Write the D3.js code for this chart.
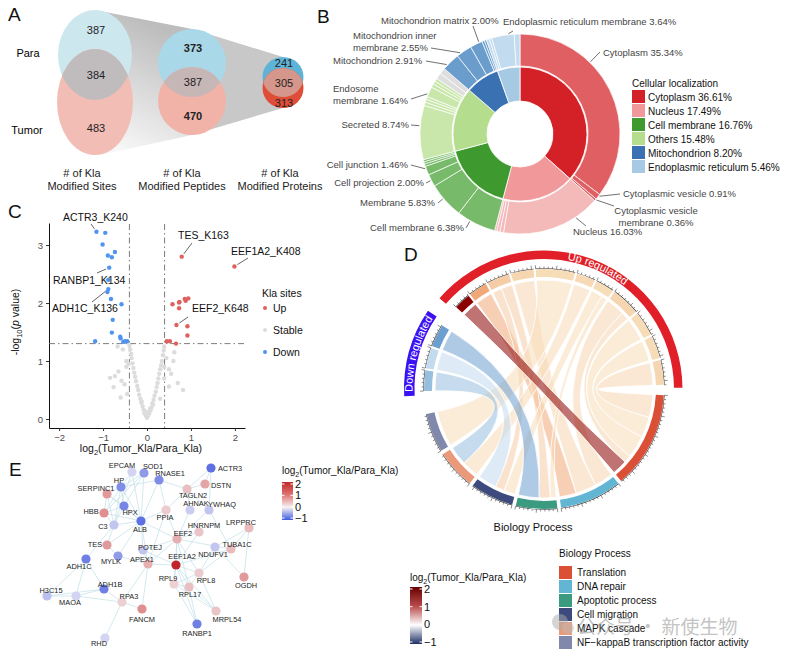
<!DOCTYPE html>
<html lang="en">
<head>
  <meta charset="UTF-8" />
  <title>Kla multi-panel figure</title>
  <script src="https://d3js.org/d3.v7.min.js"></script>
  <style>
    body { margin: 0; background: #fff; }
    svg { display: block; font-family: "Liberation Sans", Arial, sans-serif; }
  </style>
</head>
<body>
  <svg width="787" height="656"></svg>

  <script>
    // ---------- A: Kla counts (Para only / shared / Tumor only)
    const vennLevels = ["Sites", "Peptides", "Proteins"];
    const paraOnly = [387, 373, 241];
    const sharedKla = [384, 387, 305];
    const tumorOnly = [483, 470, 313];

    // ---------- B: subcellular localization
    const locGroups = ["Cytoplasm", "Nucleus", "Cell membrane", "Others", "Mitochondrion", "Endoplasmic reticulum"];
    const locShares = [36.61, 17.49, 16.76, 15.48, 8.20, 5.46];
    const subLocNames = [
      "Cytoplasm", "Cytoplasmic vesicle", "Cytoplasmic vesicle membrane",
      "Nucleus", "", "", "",
      "Cell membrane", "Membrane", "Cell projection", "Cell junction", "", "", "",
      "Secreted", "", "", "", "Endosome membrane", "", "", "", "", "",
      "Mitochondrion", "Mitochondrion inner membrane", "Mitochondrion matrix", "", "",
      "", "", "Endoplasmic reticulum membrane", ""
    ];
    const subLocShares = [
      35.34, 0.91, 0.36,
      16.03, 0.60, 0.50, 0.36,
      6.38, 5.83, 2.00, 1.46, 0.40, 0.35, 0.34,
      8.74, 0.55, 0.50, 0.45, 1.64, 0.60, 0.50, 0.50, 1.00, 1.00,
      2.91, 2.55, 2.00, 0.40, 0.34,
      0.50, 0.40, 3.64, 0.92
    ];
    // group index per outer slice (6 = unassigned, grey)
    const subLocGroup = [0,0,0, 1,1,1,1, 2,2,2,2,2,2,2, 3,3,3,3,3,3,3,3,6,6, 4,4,4,4,4, 5,5,5,5];

    // ---------- C: volcano (log2 FC, -log10 p)
    const upFC   = [0.79, 1.99, 0.58, 0.73, 0.74, 0.73, 0.86, 0.94, 0.88, 0.67, 0.92, 0.92, 0.45, 0.52, 0.66];
    const upLogP = [2.80, 2.63, 1.98, 2.01, 2.02, 1.91, 2.07, 2.08, 2.04, 1.62, 1.60, 1.44, 1.34, 1.34, 1.30];
    const downFC   = [-1.15, -0.95, -1.01, -0.73, -0.89, -0.80, -0.86, -0.88, -0.88, -0.90, -0.82, -0.58, -0.78, -0.80, -0.61, -0.60, -1.18, -0.54, -0.45, -0.50];
    const downLogP = [3.23, 3.21, 3.01, 2.88, 2.82, 2.79, 2.61, 2.40, 2.24, 2.19, 2.07, 1.98, 1.71, 1.49, 1.42, 1.39, 1.34, 1.33, 1.34, 1.34];
    const stableFC = [0, 0.02, -0.03, 0.05, -0.06, 0.08, -0.08, 0.10, -0.10, 0.12, -0.13, 0.15, -0.15, 0.17, -0.18,
      0.20, -0.20, 0.22, -0.22, 0.24, -0.25, 0.26, -0.27, 0.28, -0.29, 0.30, -0.31, 0.32, -0.33, 0.34, -0.35,
      0.36, -0.36, 0.38, -0.38, 0.39, -0.40, -0.84, -0.73, -0.58, -0.47, -0.47, -0.67, -0.55, -0.51, -0.45, -0.60,
      0.39, 0.50, 0.60, 0.62, 0.82, 0.39, 0.50, 0.30, -0.02, 0.04, -0.12, 0.14, 0.07, -0.05, 0.44, -0.42, 0.55, -0.65, 0.70, -0.76];
    const stableLogP = [0.02, 0.05, 0.06, 0.10, 0.10, 0.15, 0.16, 0.20, 0.22, 0.27, 0.28, 0.33, 0.35, 0.40, 0.42,
      0.47, 0.50, 0.55, 0.57, 0.62, 0.65, 0.70, 0.73, 0.78, 0.80, 0.86, 0.88, 0.93, 0.96, 1.00, 1.05,
      1.10, 1.12, 1.18, 1.20, 1.25, 1.27, 0.71, 0.74, 0.66, 1.00, 0.90, 1.25, 1.20, 0.60, 0.43, 0.37,
      0.90, 0.86, 1.00, 1.15, 0.50, 0.70, 0.56, 0.35, 0.08, 0.12, 0.30, 0.25, 0.18, 0.14, 1.05, 0.95, 0.78, 0.82, 0.62, 0.55];
    const volcanoSites = ["ACTR3_K240", "RANBP1_K134", "ADH1C_K136", "TES_K163", "EEF1A2_K408", "EEF2_K648"];
    const volcanoSiteFC = [-1.15, -0.86, -0.88, 0.79, 1.99, 0.67];
    const volcanoSiteLogP = [3.23, 2.61, 2.24, 2.80, 2.63, 1.62];

    // ---------- D: chord (regulated Kla proteins -> biology process)
    const processes = ["Translation", "DNA repair", "Apoptotic process", "Cell migration", "MAPK cascade", "NF\u2212kappaB transcription factor activity"];
    const upIds = ["U1", "U2", "U3", "U4", "U5", "U6", "U7", "U8", "U9", "U10", "U11"];
    const upIdFC = [2.0, 0.9, 0.62, 0.55, 0.5, 0.52, 0.5, 0.55, 0.5, 0.5, 0.55];
    const downIds = ["D3", "D2", "D1"];
    const downIdFC = [-0.6, -0.4, -0.8];
    const linkFrom  = ["U1", "U2", "U3", "U3", "U4", "U5", "U6", "U7", "U7", "U8", "U8", "U9", "U10", "U11", "D1", "D2", "D3"];
    const linkTo    = [0, 1, 2, 3, 1, 5, 4, 3, 2, 1, 0, 0, 0, 0, 2, 3, 4];
    const linkValue = [8, 9, 6, 5, 11, 19, 9, 6, 3, 10, 4, 12, 11, 12, 11, 10, 10];

    // ---------- E: PPI network
    const genes = ["EPCAM", "SOD1", "RNASE1", "ACTR3", "HP", "SERPINC1", "DSTN", "TAGLN2", "AHNAK", "YWHAQ",
      "HBB", "HPX", "PPIA", "C3", "ALB", "HNRNPM", "LRPPRC", "EEF2", "TES", "TUBA1C", "NDUFV1", "POTEJ",
      "MYLK", "ADH1C", "APEX1", "EEF1A2", "RPL9", "RPL8", "RPL17", "OGDH", "ADH1B", "H3C15", "MAOA",
      "RPA3", "FANCM", "MRPL54", "RANBP1", "RHD"];
    const geneFC = [-0.2, -0.6, -0.7, -0.9, -0.7, 0.8, 0.7, 0.45, -0.25, -0.3,
      0.9, -0.75, 0.35, -0.3, -0.9, 0.4, 0.5, 0.6, 0.8, 0.5, -0.3, -0.3,
      -0.6, -0.8, 0.6, 2.0, 0.3, 0.35, 0.45, 0.8, -0.8, -0.35, -0.2,
      0.3, 0.9, 0.4, -0.8, -0.2];
    const geneEdges = [
      ["HP","SERPINC1"],["HP","HBB"],["HP","HPX"],["HP","C3"],["HP","ALB"],["SERPINC1","HBB"],["SERPINC1","HPX"],
      ["SERPINC1","C3"],["SERPINC1","ALB"],["HBB","HPX"],["HBB","C3"],["HBB","ALB"],["HPX","C3"],["HPX","ALB"],
      ["C3","ALB"],["EPCAM","ALB"],["EPCAM","C3"],["EPCAM","HP"],["SOD1","ALB"],["SOD1","HPX"],["SOD1","HBB"],
      ["SOD1","HP"],["RNASE1","ALB"],["RNASE1","PPIA"],["RNASE1","TAGLN2"],["RNASE1","HP"],["ALB","TES"],
      ["ALB","MYLK"],["ALB","POTEJ"],["ALB","EEF2"],["ALB","APEX1"],["ALB","PPIA"],["ACTR3","TAGLN2"],
      ["ACTR3","DSTN"],["ACTR3","YWHAQ"],["DSTN","TAGLN2"],["TAGLN2","YWHAQ"],["TAGLN2","PPIA"],["AHNAK","EEF2"],
      ["YWHAQ","EEF2"],["YWHAQ","TUBA1C"],["PPIA","EEF2"],["HNRNPM","EEF2"],["HNRNPM","EEF1A2"],["LRPPRC","NDUFV1"],
      ["LRPPRC","OGDH"],["LRPPRC","TUBA1C"],["EEF2","EEF1A2"],["EEF2","RPL8"],["EEF2","RPL9"],["EEF2","RPL17"],
      ["EEF2","POTEJ"],["EEF2","APEX1"],["EEF2","TUBA1C"],["EEF1A2","RPL8"],["EEF1A2","RPL9"],["EEF1A2","RPL17"],
      ["EEF1A2","MRPL54"],["EEF1A2","TUBA1C"],["EEF1A2","RANBP1"],["EEF1A2","APEX1"],["NDUFV1","OGDH"],
      ["NDUFV1","RPL8"],["RPL8","RPL9"],["RPL8","RPL17"],["RPL9","RPL17"],["RPL8","MRPL54"],["RPL17","MRPL54"],
      ["RPL9","MRPL54"],["RPL9","RANBP1"],["RPL17","RANBP1"],["TUBA1C","RPL8"],["APEX1","RPA3"],["APEX1","FANCM"],
      ["RPA3","FANCM"],["RPA3","RHD"],["ADH1C","ADH1B"],["ADH1C","MAOA"],["ADH1C","H3C15"],["ADH1B","MAOA"],
      ["ADH1B","H3C15"],["MAOA","H3C15"],["MAOA","RPA3"],["ADH1B","RPA3"],["ADH1C","C3"],["MYLK","TES"],
      ["POTEJ","APEX1"],["POTEJ","EEF1A2"],["MYLK","APEX1"],["TES","C3"],["AHNAK","TAGLN2"],["PPIA","APEX1"]
    ];

    // ================= drawing =================
    const svg = d3.select("svg");
    const label = (t, x, y) => svg.append("text").attr("x", x).attr("y", y)
      .attr("font-size", 19).attr("fill", "#111").text(t);

    function log2Title(sel, x, y, size) {
      const t = sel.append("text").attr("x", x).attr("y", y).attr("font-size", size).attr("fill", "#111");
      t.append("tspan").text("log");
      t.append("tspan").attr("font-size", size * 0.7).attr("dy", 3).text("2");
      t.append("tspan").attr("dy", -3).text("(Tumor_Kla/Para_Kla)");
      return t;
    }

    const defs = svg.append("defs");

    // ---------- Panel A
    label("A", 8, 21);
    const vennGeom = [
      { cx: 95,  rxT: 37, ryT: 45, cyT: 55, rxB: 38, ryB: 53, cyB: 102 },
      { cx: 192, rxT: 34, ryT: 34, cyT: 63, rxB: 34, ryB: 34, cyB: 101 },
      { cx: 283, rxT: 20.5, ryT: 20, cyT: 77, rxB: 20.5, ryB: 20, cyB: 88 }
    ];
    const vennTop = ["#cde7ef", "#a9d8e8", "#5db4d6"];
    const vennBot = ["#f2bdb5", "#f1b2a8", "#df4d38"];
    const vennMid = ["#c0bcbe", "#c6b6b6", "#d5968b"];
    const vennTitleX = [82, 182, 280];

    const cone1 = defs.append("linearGradient").attr("id", "cone1")
      .attr("gradientUnits", "userSpaceOnUse").attr("x1", 120).attr("y1", 150).attr("x2", 175).attr("y2", 35);
    cone1.append("stop").attr("offset", 0).attr("stop-color", "#f7f7f7");
    cone1.append("stop").attr("offset", 1).attr("stop-color", "#bdbdbd");
    const g0 = vennGeom[0], g1 = vennGeom[1], g2 = vennGeom[2];
    svg.append("path").attr("fill", "url(#cone1)")
      .attr("d", `M${g0.cx},${g0.cyT - g0.ryT} L${g1.cx},${g1.cyT - g1.ryT} L${g1.cx},${g1.cyB + g1.ryB} L${g0.cx + 5},${g0.cyB + g0.ryB} Z`);
    svg.append("path").attr("fill", "#c8c8c8")
      .attr("d", `M${g1.cx},${g1.cyT - g1.ryT} L${g2.cx},${g2.cyT - g2.ryT} L${g2.cx},${g2.cyB + g2.ryB} L${g1.cx},${g1.cyB + g1.ryB} Z`);

    vennLevels.forEach((lv, i) => {
      const g = vennGeom[i];
      defs.append("clipPath").attr("id", "clipB" + i)
        .append("ellipse").attr("cx", g.cx).attr("cy", g.cyB).attr("rx", g.rxB).attr("ry", g.ryB);
      svg.append("ellipse").attr("cx", g.cx).attr("cy", g.cyT).attr("rx", g.rxT).attr("ry", g.ryT).attr("fill", vennTop[i]);
      svg.append("ellipse").attr("cx", g.cx).attr("cy", g.cyB).attr("rx", g.rxB).attr("ry", g.ryB).attr("fill", vennBot[i]);
      svg.append("ellipse").attr("cx", g.cx).attr("cy", g.cyT).attr("rx", g.rxT).attr("ry", g.ryT)
        .attr("fill", vennMid[i]).attr("clip-path", `url(#clipB${i})`);
      const topTop = g.cyT - g.ryT, botTop = g.cyB - g.ryB, topBot = g.cyT + g.ryT, botBot = g.cyB + g.ryB;
      const ys = [(topTop + botTop) / 2, (botTop + topBot) / 2, (topBot + botBot) / 2];
      const vals = [paraOnly[i], sharedKla[i], tumorOnly[i]];
      vals.forEach((v, k) => {
        svg.append("text").attr("x", g.cx + 1).attr("y", ys[k] + 4).attr("text-anchor", "middle")
          .attr("font-size", 11).attr("fill", "#222")
          .attr("font-weight", i === 1 && k !== 1 ? "bold" : "normal").text(v);
      });
      const t = svg.append("text").attr("text-anchor", "middle").attr("font-size", 11).attr("fill", "#222");
      t.append("tspan").attr("x", vennTitleX[i]).attr("y", 177).text("# of Kla");
      t.append("tspan").attr("x", vennTitleX[i]).attr("y", 190).text("Modified " + lv);
    });
    svg.append("text").attr("x", 28).attr("y", 57).attr("text-anchor", "middle").attr("font-size", 11).text("Para");
    svg.append("text").attr("x", 27).attr("y", 134).attr("text-anchor", "middle").attr("font-size", 11).text("Tumor");

    // ---------- Panel B
    label("B", 317, 23);
    const bcx = 520, bcy = 134;
    const gB = svg.append("g").attr("transform", `translate(${bcx},${bcy})`);
    const innerCol = ["#d42027", "#f0989a", "#3e9a2f", "#b5dd8e", "#3a71b3", "#a6cae3"];
    const outerCol = ["#e05f63", "#f4b9b9", "#77ba69", "#c9e7aa", "#6b9dcc", "#c3dbee", "#dedede"];
    const pie = d3.pie().sort(null).value(d => d);
    const innerArcs = pie(locShares);
    const outerArcs = pie(subLocShares);
    const arcIn = d3.arc().innerRadius(33).outerRadius(67);
    const arcOut = d3.arc().innerRadius(68).outerRadius(100);
    gB.selectAll("path.in").data(innerArcs).join("path").attr("class", "in")
      .attr("d", arcIn).attr("fill", (d, i) => innerCol[i]).attr("stroke", "#fff").attr("stroke-width", 0.8);
    gB.selectAll("path.out").data(outerArcs).join("path").attr("class", "out")
      .attr("d", arcOut).attr("fill", (d, i) => outerCol[subLocGroup[i]]).attr("stroke", "#fff").attr("stroke-width", 0.7);

    // label placement (absolute px): text anchor point, leader end, words on first line
    const bLabelLayout = {
      "Cytoplasm": { x: 603, y: 56, anchor: "start", lx: 600, ly: 52 },
      "Cytoplasmic vesicle": { x: 623, y: 197, anchor: "start", lx: 620, ly: 194 },
      "Cytoplasmic vesicle membrane": { x: 656, y: 214, anchor: "middle", lx: 614, ly: 206, br: 2 },
      "Nucleus": { x: 573, y: 235, anchor: "start", lx: 586, ly: 226 },
      "Cell membrane": { x: 464, y: 231, anchor: "end", lx: 466, ly: 228 },
      "Membrane": { x: 435, y: 206, anchor: "end", lx: 438, ly: 203 },
      "Cell projection": { x: 424, y: 186, anchor: "end", lx: 426, ly: 183 },
      "Cell junction": { x: 408, y: 168, anchor: "end", lx: 411, ly: 165 },
      "Secreted": { x: 409, y: 128, anchor: "end", lx: 411, ly: 125 },
      "Endosome membrane": { x: 333, y: 92, anchor: "start", lx: 411, ly: 99, br: 1 },
      "Mitochondrion": { x: 333, y: 64, anchor: "start", lx: 426, ly: 61 },
      "Mitochondrion inner membrane": { x: 353, y: 39, anchor: "start", lx: 431, ly: 48, br: 2 },
      "Mitochondrion matrix": { x: 381, y: 24, anchor: "start", lx: 473, ly: 26 },
      "Endoplasmic reticulum membrane": { x: 503, y: 25, anchor: "start", lx: 513, ly: 31 }
    };
    outerArcs.forEach((a, i) => {
      const name = subLocNames[i];
      const L = bLabelLayout[name];
      if (!name || !L) return;
      const full = `${name} ${subLocShares[i].toFixed(2)}%`;
      const words = full.split(" ");
      const lines = L.br ? [words.slice(0, L.br).join(" "), words.slice(L.br).join(" ")] : [full];
      const t = svg.append("text").attr("font-size", 9.5).attr("fill", "#444").attr("text-anchor", L.anchor);
      lines.forEach((ln, k) => t.append("tspan").attr("x", L.x).attr("y", L.y + k * 12).text(ln));
      let ang = Math.atan2(L.lx - bcx, -(L.ly - bcy));
      if (ang < 0) ang += 2 * Math.PI;
      const w = a.endAngle - a.startAngle;
      ang = Math.max(a.startAngle + 0.25 * w, Math.min(a.endAngle - 0.25 * w, ang));
      const p = d3.pointRadial(ang, 101);
      svg.append("line").attr("x1", bcx + p[0]).attr("y1", bcy + p[1]).attr("x2", L.lx).attr("y2", L.ly)
        .attr("stroke", "#333").attr("stroke-width", 0.7);
    });
    svg.append("text").attr("x", 632).attr("y", 87).attr("font-size", 10).attr("fill", "#111").text("Cellular localization");
    locGroups.forEach((gname, i) => {
      svg.append("rect").attr("x", 632).attr("y", 90 + i * 14).attr("width", 13).attr("height", 13).attr("fill", innerCol[i]);
      svg.append("text").attr("x", 648).attr("y", 100.5 + i * 14).attr("font-size", 10).attr("fill", "#111")
        .text(`${gname} ${locShares[i].toFixed(2)}%`);
    });

    // ---------- Panel C
    label("C", 8, 218);
    const xV = d3.scaleLinear().domain([-2.23, 2.23]).range([49, 245]);
    const yV = d3.scaleLinear().domain([-0.155, 3.38]).range([428, 223]);
    const gC = svg.append("g");
    const axL = gC.append("g").attr("transform", "translate(49,0)")
      .call(d3.axisLeft(yV).tickValues([0, 1, 2, 3]).tickFormat(d3.format("d")).tickSize(3).tickSizeOuter(0));
    const axB = gC.append("g").attr("transform", "translate(0,428)")
      .call(d3.axisBottom(xV).tickValues([-2, -1, 0, 1, 2]).tickFormat(d3.format("d")).tickSize(3).tickSizeOuter(0));
    [axL, axB].forEach(a => {
      a.selectAll("text").attr("font-size", 9.5).attr("fill", "#4d4d4d").attr("font-family", "Liberation Sans, Arial, sans-serif");
      a.selectAll("line").attr("stroke", "#333");
      a.select(".domain").attr("stroke", "#111");
    });
    const dashStyle = s => s.attr("stroke", "#6d6d6d").attr("stroke-width", 0.9).attr("stroke-dasharray", "6,3,1.5,3");
    [-0.4, 0.4].forEach(v => gC.append("line").attr("x1", xV(v)).attr("x2", xV(v)).attr("y1", 224).attr("y2", 428).call(dashStyle));
    gC.append("line").attr("x1", 49).attr("x2", 245).attr("y1", yV(1.3)).attr("y2", yV(1.3)).call(dashStyle);

    const ptsStable = stableFC.map((v, i) => [v, stableLogP[i]]);
    const ptsUp = upFC.map((v, i) => [v, upLogP[i]]);
    const ptsDown = downFC.map((v, i) => [v, downLogP[i]]);
    const colStable = "#dcdcdc", colUp = "#e0605e", colDown = "#4f94ef";
    [[ptsStable, colStable], [ptsUp, colUp], [ptsDown, colDown]].forEach(([pts, col]) => {
      gC.selectAll(null).data(pts).join("circle")
        .attr("cx", d => xV(d[0])).attr("cy", d => yV(d[1])).attr("r", 2.2).attr("fill", col);
    });
    // site labels: text anchor + leader start (px)
    const siteLabelLayout = [
      { x: 63, y: 221, lx: 91, ly: 224 },
      { x: 53, y: 284, lx: 97, ly: 273 },
      { x: 52, y: 312, lx: 92, ly: 302 },
      { x: 178, y: 239, lx: 192, ly: 243 },
      { x: 231, y: 255, lx: 248, ly: 258 },
      { x: 192, y: 312, lx: 188, ly: 317 }
    ];
    volcanoSites.forEach((s, i) => {
      const L = siteLabelLayout[i];
      const px = xV(volcanoSiteFC[i]), py = yV(volcanoSiteLogP[i]);
      const dx = L.lx - px, dy = L.ly - py, dl = Math.hypot(dx, dy);
      gC.append("line").attr("x1", L.lx).attr("y1", L.ly).attr("x2", px + dx / dl * 3.5).attr("y2", py + dy / dl * 3.5)
        .attr("stroke", "#222").attr("stroke-width", 0.7);
      gC.append("text").attr("x", L.x).attr("y", L.y).attr("font-size", 10.5).attr("fill", "#111").text(s);
    });
    const xl = gC.append("text").attr("x", 141).attr("y", 452).attr("text-anchor", "middle").attr("font-size", 10.5).attr("fill", "#111");
    xl.append("tspan").text("log");
    xl.append("tspan").attr("font-size", 7.5).attr("dy", 3).text("2");
    xl.append("tspan").attr("dy", -3).text("(Tumor_Kla/Para_Kla)");
    const yl = gC.append("text").attr("transform", "translate(19,322) rotate(-90)").attr("text-anchor", "middle")
      .attr("font-size", 10.5).attr("fill", "#111");
    yl.append("tspan").text("-log");
    yl.append("tspan").attr("font-size", 7.5).attr("dy", 3).text("10");
    yl.append("tspan").attr("dy", -3).text("(");
    yl.append("tspan").attr("font-style", "italic").text("p");
    yl.append("tspan").text(" value)");
    gC.append("text").attr("x", 262).attr("y", 297).attr("font-size", 10.5).attr("fill", "#111").text("Kla sites");
    [["Up", colUp], ["Stable", colStable], ["Down", colDown]].forEach(([n, c], i) => {
      gC.append("circle").attr("cx", 265).attr("cy", 308 + i * 22).attr("r", 2).attr("fill", c);
      gC.append("text").attr("x", 273).attr("y", 312 + i * 22).attr("font-size", 10.5).attr("fill", "#111").text(n);
    });

    // ---------- Panel D
    label("D", 404, 261);
    const dcx = 544, dcy = 389;
    const gD = svg.append("g").attr("transform", `translate(${dcx},${dcy})`);
    const rad = Math.PI / 180;
    const fcColor = d3.scaleLinear().domain([-1, -0.8, -0.4, 0, 0.5, 0.9, 2])
      .range(["#1d3f73", "#6b9fd0", "#c3dbee", "#ffffff", "#f7dcb8", "#f0a878", "#8b0000"]);
    const procColor = ["#dc4f37", "#62b6d3", "#3a9b81", "#3c4a7e", "#ea9a7a", "#8088ab"];

    const links = linkFrom.map((f, i) => ({ from: f, to: linkTo[i], value: linkValue[i] }));
    function layoutSectors(ids, startDeg, gapDeg, totalOf) {
      let a = startDeg;
      return ids.map(id => {
        const s = { id, start: a, end: a + totalOf(id), cursor: a };
        a = s.end + gapDeg;
        return s;
      });
    }
    const srcTotal = id => d3.sum(links.filter(l => l.from === id), l => l.value);
    const upSec = layoutSectors(upIds, -47, 1, srcTotal);
    const downSec = layoutSectors(downIds, -91, 1, srcTotal);
    const procSec = layoutSectors(d3.range(processes.length), 93, 1.8, k => d3.sum(links.filter(l => l.to === k), l => l.value));

    // source sub-arcs: farther target first
    [...upSec, ...downSec].forEach(s => {
      links.filter(l => l.from === s.id).sort((a, b) => b.to - a.to).forEach(l => {
        l.s0 = s.cursor; l.s1 = s.cursor + l.value; s.cursor = l.s1;
      });
    });
    procSec.forEach(p => {
      links.filter(l => l.to === p.id).sort((a, b) => (b.s0 + b.s1) - (a.s0 + a.s1)).forEach(l => {
        l.t0 = p.cursor; l.t1 = p.cursor + l.value; p.cursor = l.t1;
      });
    });
    const ribbon = d3.ribbon().radius(109);
    const srcFC = id => upIds.includes(id) ? upIdFC[upIds.indexOf(id)] : downIdFC[downIds.indexOf(id)];
    const drawOrder = [...links].sort((a, b) => (a.from === "U1") - (b.from === "U1"));
    gD.selectAll("path.rib").data(drawOrder).join("path").attr("class", "rib")
      .attr("d", l => ribbon({ source: { startAngle: l.s0 * rad, endAngle: l.s1 * rad },
                               target: { startAngle: l.t0 * rad, endAngle: l.t1 * rad } }))
      .attr("fill", l => fcColor(srcFC(l.from))).attr("fill-opacity", 0.55)
      .attr("stroke", "#fff").attr("stroke-width", 0.8);

    const segArc = d3.arc().innerRadius(112).outerRadius(120);
    const allSec = [
      ...upSec.map(s => ({ ...s, color: fcColor(srcFC(s.id)) })),
      ...downSec.map(s => ({ ...s, color: fcColor(srcFC(s.id)) })),
      ...procSec.map(s => ({ ...s, color: procColor[s.id] }))
    ];
    allSec.forEach(s => {
      gD.append("path").attr("d", segArc({ startAngle: s.start * rad, endAngle: s.end * rad })).attr("fill", s.color);
      gD.append("path").attr("d", d3.arc()({ innerRadius: 120.3, outerRadius: 120.8, startAngle: s.start * rad, endAngle: s.end * rad }))
        .attr("fill", "#222");
      for (let t = 0; t <= s.end - s.start + 0.01; t += 2) {
        const a = (s.start + t) * rad, len = t % 10 === 0 ? 3.5 : 2;
        const p0 = d3.pointRadial(a, 120.5), p1 = d3.pointRadial(a, 120.5 + len);
        gD.append("line").attr("x1", p0[0]).attr("y1", p0[1]).attr("x2", p1[0]).attr("y2", p1[1])
          .attr("stroke", "#222").attr("stroke-width", 0.5);
      }
    });
    const upA0 = upSec[0].start - 2, upA1 = upSec[upSec.length - 1].end + 1.5;
    const dnA0 = downSec[0].start - 2, dnA1 = downSec[downSec.length - 1].end + 2;
    gD.append("path").attr("d", d3.arc()({ innerRadius: 130, outerRadius: 138.5, startAngle: upA0 * rad, endAngle: upA1 * rad }))
      .attr("fill", "#e01f28");
    gD.append("path").attr("d", d3.arc()({ innerRadius: 129.5, outerRadius: 140, startAngle: dnA0 * rad, endAngle: dnA1 * rad }))
      .attr("fill", "#3a12f2");
    const arcPath = (a0, a1, r) => {
      const p0 = d3.pointRadial(a0 * rad, r), p1 = d3.pointRadial(a1 * rad, r);
      return `M${p0[0]},${p0[1]} A${r},${r} 0 0 1 ${p1[0]},${p1[1]}`;
    };
    defs.append("path").attr("id", "upTextPath").attr("d", arcPath(-10, 58, 131.2));
    defs.append("path").attr("id", "dnTextPath").attr("d", arcPath(dnA0, dnA1, 131.5));
    const gDt = svg.append("g").attr("transform", `translate(${dcx},${dcy})`);
    gDt.append("text").attr("font-size", 11).attr("fill", "#fff")
      .append("textPath").attr("href", "#upTextPath").attr("startOffset", "50%").attr("text-anchor", "middle").text("Up regulated");
    gDt.append("text").attr("font-size", 11).attr("fill", "#fff")
      .append("textPath").attr("href", "#dnTextPath").attr("startOffset", "50%").attr("text-anchor", "middle").text("Down regulated");
    svg.append("text").attr("x", 533).attr("y", 531).attr("text-anchor", "middle").attr("font-size", 11).attr("fill", "#111")
      .text("Biology Process");

    // D legends
    svg.append("text").attr("x", 559).attr("y", 557).attr("font-size", 10).attr("fill", "#111").text("Biology Process");
    processes.forEach((p, i) => {
      svg.append("rect").attr("x", 559).attr("y", 566 + i * 14).attr("width", 13).attr("height", 13).attr("fill", procColor[i]);
      svg.append("text").attr("x", 577).attr("y", 576 + i * 14).attr("font-size", 10).attr("fill", "#111").text(p);
    });

    function colorBar(x, y0, y1, w, domainColors, ticks, labelSize) {
      const id = "cb" + x;
      const grad = defs.append("linearGradient").attr("id", id).attr("x1", 0).attr("y1", 1).attr("x2", 0).attr("y2", 0);
      const sc = d3.scaleLinear().domain([ticks[ticks.length - 1], ticks[0]]).range([y0, y1]);
      domainColors.forEach(([v, c]) => grad.append("stop")
        .attr("offset", (v - ticks[ticks.length - 1]) / (ticks[0] - ticks[ticks.length - 1])).attr("stop-color", c));
      svg.append("rect").attr("x", x).attr("y", y1 - 2).attr("width", w).attr("height", y0 - y1 + 4).attr("fill", `url(#${id})`);
      ticks.forEach(v => {
        const yy = sc(v);
        svg.append("line").attr("x1", x).attr("x2", x + 2.5).attr("y1", yy).attr("y2", yy).attr("stroke", "#fff").attr("stroke-width", 1);
        svg.append("line").attr("x1", x + w - 2.5).attr("x2", x + w).attr("y1", yy).attr("y2", yy).attr("stroke", "#fff").attr("stroke-width", 1);
        svg.append("text").attr("x", x + w + 2).attr("y", yy + 4).attr("font-size", labelSize).attr("fill", "#111")
          .text(d3.format("")(v).replace("-", "\u2212"));
      });
    }
    log2Title(svg, 410, 581, 10);
    colorBar(410, 642, 589, 12, [[-1, "#1d2f66"], [0, "#ffffff"], [1, "#b84a4a"], [2, "#670000"]], [2, 1, 0, -1], 11);

    // ---------- Panel E
    label("E", 9, 476);
    const netPos = {
      EPCAM: [132, 472], SOD1: [144, 473], RNASE1: [159, 480], ACTR3: [211, 468], HP: [121, 487], SERPINC1: [107, 494],
      DSTN: [205, 484], TAGLN2: [187, 489], AHNAK: [190, 510], YWHAQ: [209, 510], HBB: [104, 513], HPX: [124, 506],
      PPIA: [166, 510], C3: [114, 525], ALB: [141, 521], HNRNPM: [199, 532], LRPPRC: [249, 528], EEF2: [177, 539],
      TES: [107, 545], TUBA1C: [231, 549], NDUFV1: [215, 547], POTEJ: [143, 550], MYLK: [118, 556], ADH1C: [86, 559],
      APEX1: [148, 564], EEF1A2: [176, 565], RPL9: [174, 584], RPL8: [199, 573], RPL17: [189, 587], OGDH: [244, 577],
      ADH1B: [104, 589], H3C15: [47, 596], MAOA: [76, 596], RPA3: [122, 602], FANCM: [142, 609], MRPL54: [216, 611],
      RANBP1: [197, 624], RHD: [105, 638]
    };
    const netLabelPos = {
      EPCAM: [122, 465], SOD1: [153, 466], RNASE1: [170, 473], ACTR3: [230, 468], HP: [119, 480], SERPINC1: [96, 488],
      DSTN: [221, 485], TAGLN2: [193, 495], AHNAK: [196, 503], YWHAQ: [222, 504], HBB: [91, 511], HPX: [130, 512],
      PPIA: [165, 517], C3: [103, 526], ALB: [140, 529], HNRNPM: [204, 525], LRPPRC: [241, 522], EEF2: [183, 533],
      TES: [95, 544], TUBA1C: [237, 544], NDUFV1: [213, 554], POTEJ: [150, 547], MYLK: [111, 561], ADH1C: [79, 566],
      APEX1: [142, 559], EEF1A2: [182, 556], RPL9: [168, 578], RPL8: [206, 580], RPL17: [190, 594], OGDH: [246, 585],
      ADH1B: [110, 584], H3C15: [51, 590], MAOA: [70, 602], RPA3: [129, 596], FANCM: [142, 619], MRPL54: [227, 619],
      RANBP1: [197, 633], RHD: [99, 643]
    };
    const xN = d3.scaleLinear().domain([0, 1]).range([0, 1]);
    const nodeColor = d3.scaleLinear().domain([-1, 0, 1, 2]).range(["#4e62e0", "#f3f1f5", "#dd8484", "#c0242a"]);
    const gE = svg.append("g");
    gE.selectAll("line").data(geneEdges).join("line")
      .attr("x1", d => xN(netPos[d[0]][0])).attr("y1", d => xN(netPos[d[0]][1]))
      .attr("x2", d => xN(netPos[d[1]][0])).attr("y2", d => xN(netPos[d[1]][1]))
      .attr("stroke", "#c2e0e8").attr("stroke-width", 0.7);
    gE.selectAll("circle").data(genes).join("circle")
      .attr("cx", g => xN(netPos[g][0])).attr("cy", g => xN(netPos[g][1])).attr("r", 4.6)
      .attr("fill", (g, i) => nodeColor(geneFC[i]));
    gE.selectAll("text").data(genes).join("text")
      .attr("x", g => xN(netLabelPos[g][0])).attr("y", g => xN(netLabelPos[g][1]) + 2.7)
      .attr("text-anchor", "middle").attr("font-size", 7.4).attr("fill", "#222").text(g => g);
    log2Title(svg, 282, 474, 10);
    colorBar(282, 518, 484, 11, [[-1, "#3e5be0"], [0, "#f6f2f2"], [1, "#e07474"], [2, "#c02828"]], [2, 1, 0, -1], 11);

    label("F", 15, 670);

    // watermark
    const wm = svg.append("g").attr("opacity", 0.5);
    wm.append("circle").attr("cx", 560).attr("cy", 622).attr("r", 8).attr("fill", "#aaa");
    wm.append("circle").attr("cx", 568).attr("cy", 628).attr("r", 6).attr("fill", "#bbb");
    wm.append("text").attr("x", 577).attr("y", 634).attr("font-size", 19)
      .attr("font-family", "Noto Sans CJK SC, sans-serif").attr("fill", "#8a8a8a").text("公众号 · 新使生物");
  </script>
</body>
</html>
